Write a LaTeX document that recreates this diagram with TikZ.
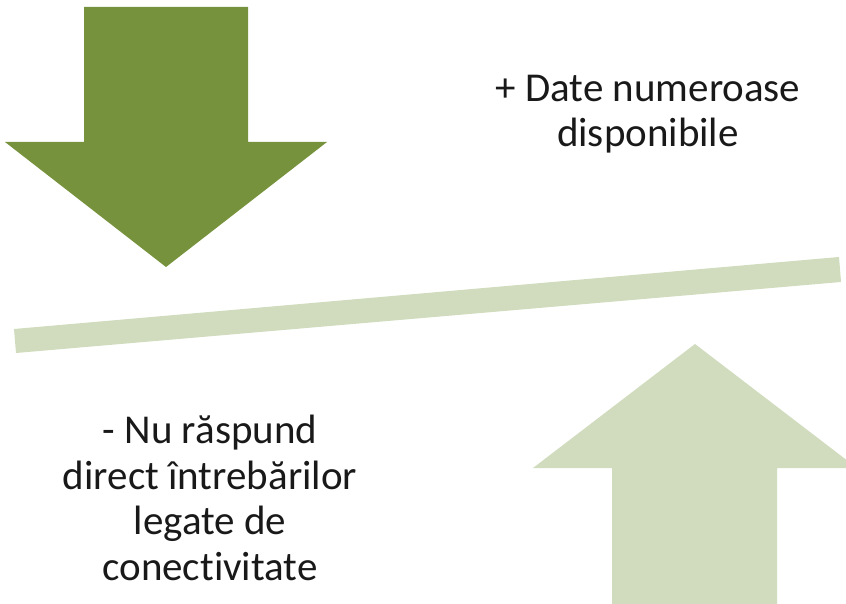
\documentclass[tikz,border=0pt]{standalone}
\usepackage{fontspec}
\setmainfont{Carlito}[Ligatures=NoCommon]
\definecolor{olivedark}{HTML}{76923C}
\definecolor{olivelight}{HTML}{D0DCBD}
\begin{document}
\begin{tikzpicture}[x=1pt,y=-1pt,
  label text/.style={font=\fontsize{41}{45.5}\selectfont, align=center, inner sep=0pt, anchor=base, text=black!90}]
\useasboundingbox (0,0) rectangle (846,604);
% downward arrow (dark)
\fill[olivedark] (84,7) -- (248,7) -- (248,142) -- (327,142) -- (166,267)
  -- (5,142) -- (84,142) -- cycle;
% tilted bar
\fill[olivelight] (14,329) -- (839,257) -- (841,282) -- (16,353) -- cycle;
% upward arrow (light)
\fill[olivelight] (612,604) -- (612,468) -- (533,468) -- (695,344)
  -- (857,468) -- (777,468) -- (777,604) -- cycle;
% captions (base anchor sits on the last line)
\node[label text] (pro) at (648,147) {+ Date numeroase\\disponibile};
\node[label text] (con) at (210,580) {- Nu răspund\\direct întrebărilor\\legate de\\conectivitate};
\end{tikzpicture}
\end{document}
